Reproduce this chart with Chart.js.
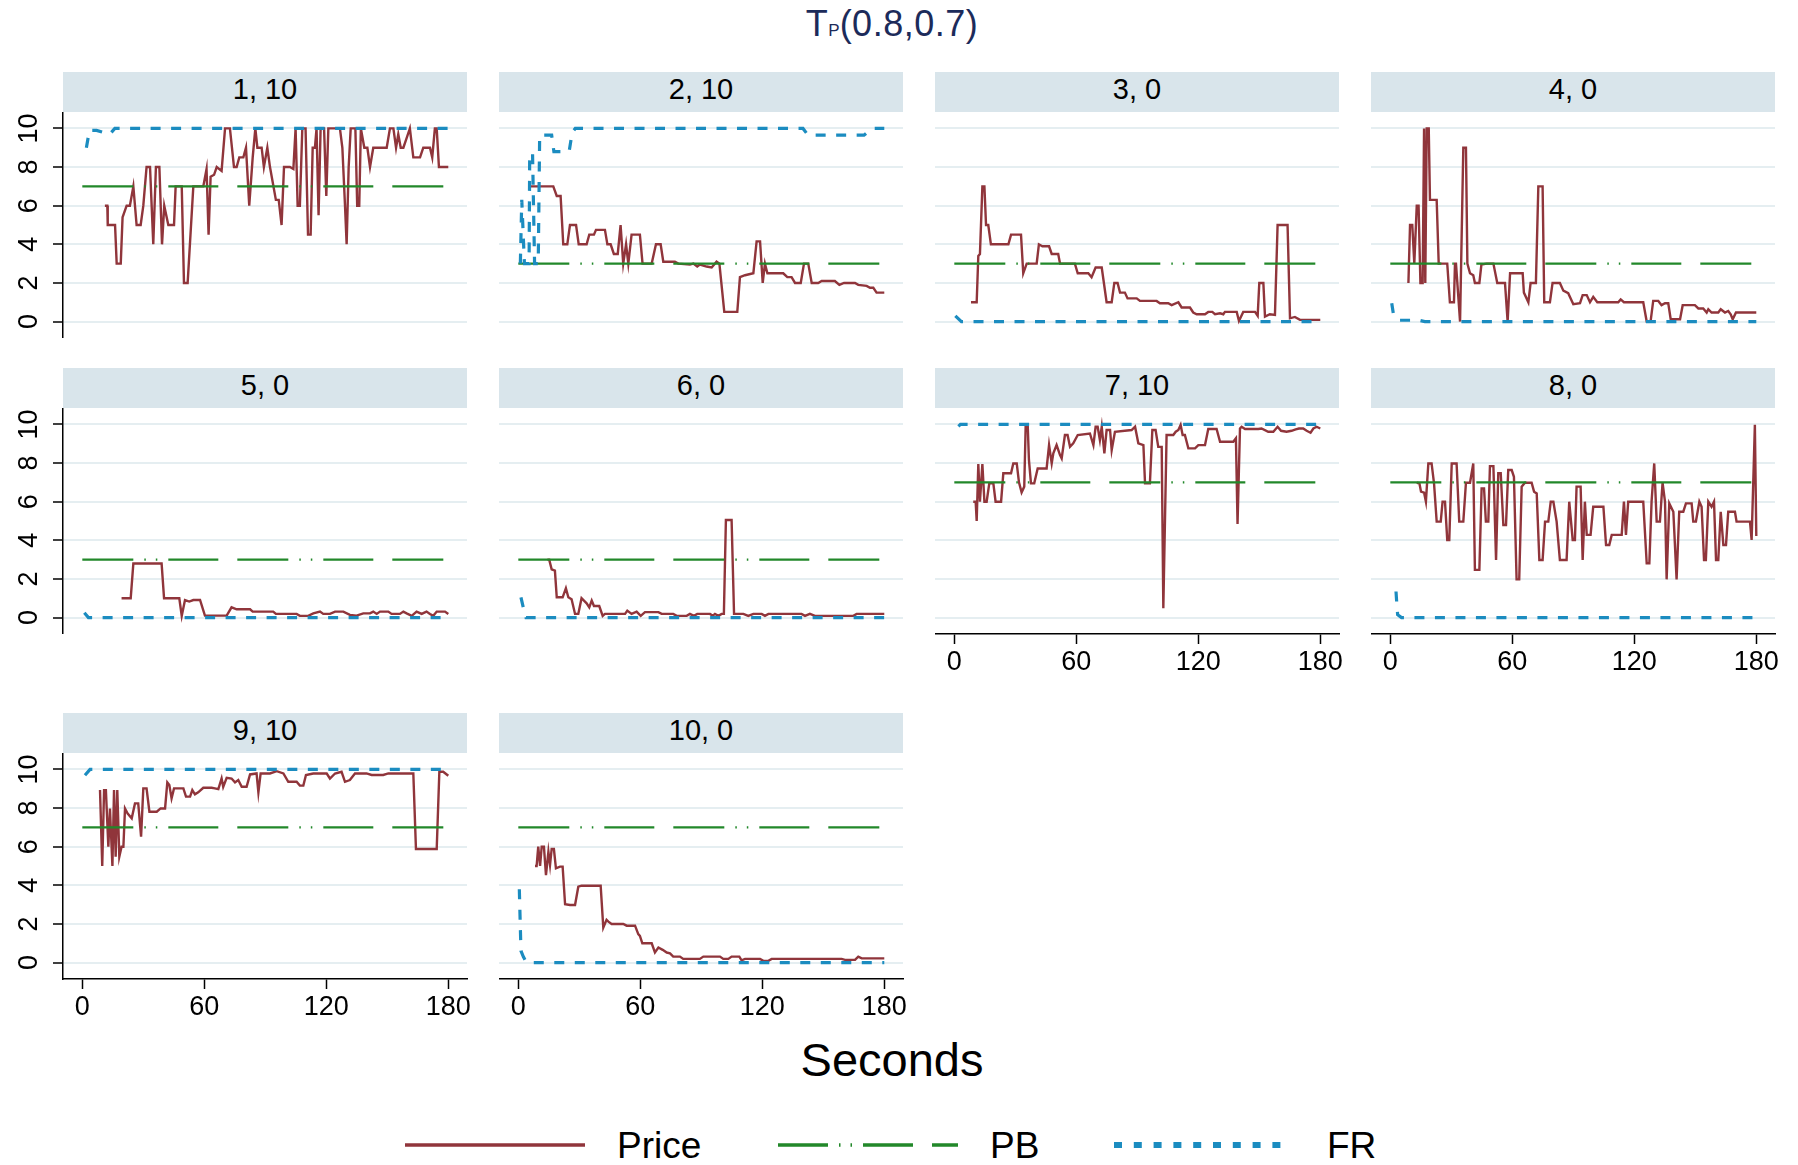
<!DOCTYPE html>
<html>
<head>
<meta charset="utf-8">
<title>TP(0.8,0.7)</title>
<script src="https://cdn.jsdelivr.net/npm/chart.js@4.4.1/dist/chart.umd.min.js"></script>
<style>
  body { margin: 0; background: #fff; font-family: "Liberation Sans", Arial, sans-serif; }
  #page { position: relative; width: 1798px; height: 1165px; overflow: hidden; background: #fff; }
  .strip { position: absolute; height: 40px; box-sizing: border-box; padding-bottom: 6px;
           background: #d9e5eb; display: flex; align-items: center; justify-content: center;
           font-size: 29px; line-height: 1; color: #000; }
  .panel { position: absolute; }
  #title { position: absolute; left: 0; top: 6px; width: 1784px; text-align: center;
           font-size: 36px; line-height: 1; letter-spacing: 0.5px; color: #1c2b5a; }
  #title span { font-size: 17px; letter-spacing: 0; }
  #xtitle { position: absolute; left: 0; top: 1036px; width: 1784px; text-align: center;
            font-size: 47px; line-height: 1; color: #000; }
  .legtext { position: absolute; top: 1127px; font-size: 37px; line-height: 1; color: #000; }
  #legend { position: absolute; left: 0; top: 0; }
</style>
</head>
<body>
<div id="page">
  <div id="title">T<span>P</span>(0.8,0.7)</div>
  <div id="xtitle">Seconds</div>
  <svg id="legend" width="1798" height="1165">
    <line x1="405" y1="1145" x2="585" y2="1145" stroke="#90353b" stroke-width="3.5"/>
    <line x1="778" y1="1145" x2="958" y2="1145" stroke="#22882a" stroke-width="3.5"
          stroke-dasharray="50 11 1.5 10 1.5 11 50 19"/>
    <line x1="1114" y1="1145" x2="1292" y2="1145" stroke="#1b8cc0" stroke-width="6"
          stroke-dasharray="8 11.8"/>
  </svg>
  <div class="legtext" style="left:617px">Price</div>
  <div class="legtext" style="left:990px">PB</div>
  <div class="legtext" style="left:1327px">FR</div>
</div>

<script>
// ---------------- data (seconds, value) ----------------
const panelTitles = ['1, 10', '2, 10', '3, 0', '4, 0', '5, 0', '6, 0', '7, 10', '8, 0', '9, 10', '10, 0'];
const pbLevel = [7, 3, 3, 3, 3, 3, 7, 7, 7, 7];
const pbRange = [0, 180];
const xTicks = [0, 60, 120, 180];
const xTickLabels = ['0', '60', '120', '180'];
const yTicks = [0, 2, 4, 6, 8, 10];
const yTickLabels = ['0', '2', '4', '6', '8', '10'];

const price1 = [[11.1,6],[12.3,6],[12.5,5],[16.1,5],[16.9,3],[18.9,3],[19.8,5.4],[21.8,6],[23.4,6],[25.1,7],[26.7,5],[28.7,5],[30,6],[31.6,8],[33.3,8],[34.9,4],[36.2,8],[37.9,8],[39.2,4],[40.3,6],[42.3,5],[45.1,5],[45.9,7],[48.9,7],[50,2],[51.8,2],[54.6,7],[59.5,7],[61.1,7.9],[62.1,4.5],[63.1,7.5],[64.8,7.6],[66.1,8],[68.5,7.8],[70.2,10],[72.6,10],[74.6,8],[75.9,8],[77.2,8.5],[79.2,8.5],[80.5,9],[82.1,6],[83.8,8.5],[85.1,10],[86.1,9],[88.2,9],[89.3,8],[91,9],[92.3,8],[95.2,6.3],[96.6,6.3],[98,5],[99.2,8],[102.1,8],[103.8,7.9],[104.9,10],[105.9,6],[107,6],[108.2,10],[109.8,10],[111,4.5],[112.3,4.5],[113.3,9],[114.4,9],[115.2,10],[116.2,5.5],[117.2,10],[118.9,10],[120,6.5],[121,10],[126.7,10],[127.9,9],[129.2,6],[130,4],[131,8],[132,10],[134.3,10],[135.2,6],[136.2,6],[137,10],[138.7,9],[140.2,9],[141.5,8],[143.1,9],[149.7,9],[151.3,10],[153,10],[154.3,9],[155.4,9.7],[156.6,9],[157.9,9],[159.5,9.5],[161.1,10],[162.8,8.5],[166.1,8.5],[167.7,9],[171,9],[172.1,8.5],[173.4,10],[174.3,10],[175.4,8],[180,8]];
const price2 = [[4.9,7],[17.2,7],[18.9,6.5],[20.8,6.5],[22.1,4],[24.1,4],[25.4,5],[28.4,5],[29.7,4],[33.6,4],[34.9,4.5],[37.2,4.5],[38.2,4.75],[42.6,4.75],[43.8,4],[45.4,4],[47,3.5],[48.9,3.5],[50.3,5],[51.6,3],[53,4],[54.1,3],[55.7,4.5],[59.8,4.5],[61.1,3],[65.6,3],[67.7,4],[70,4],[71.3,3.1],[77,3.1],[78.7,3],[84.4,2.95],[86.1,3],[88,2.85],[89.3,2.95],[92.6,2.85],[95.1,2.8],[97.5,3.1],[98.9,3],[101.3,0.5],[107.7,0.5],[109,2.3],[111.5,2.4],[115.6,2.5],[117.2,4.15],[118.9,4.15],[120.2,2],[121.3,3],[122.5,2.5],[130.3,2.5],[132.3,2.3],[134.4,2.3],[136.1,2],[138.9,2],[140.5,3],[142.6,3],[144.3,2],[147.5,2],[149.2,2.1],[155.7,2.1],[157.9,1.9],[160.2,2],[165.6,2],[167.2,1.9],[171.3,1.85],[173,1.75],[174.6,1.75],[176.2,1.5],[180,1.5]];
const price3 = [[8.2,1],[11,1],[11.8,3.4],[12.6,3.5],[13.8,7],[14.8,7],[15.6,5],[16.7,5],[18,4],[26.6,4],[27.9,4.5],[32.8,4.5],[33.9,2.5],[35.6,3],[40.5,3],[41.6,4],[43.3,3.9],[46.6,3.9],[47.9,3.5],[51.1,3.5],[52,3],[59.3,3],[60.7,2.5],[65.9,2.5],[67.5,2.3],[69.5,2.8],[72.5,2.8],[74.9,1],[77.4,1],[78.7,2],[80.3,2],[81.5,1.5],[83.9,1.5],[85.2,1.2],[89.7,1.2],[91.3,1.07],[99.5,1.07],[101.1,0.95],[105.2,0.95],[106.9,0.85],[110.2,1],[111.8,0.73],[115.9,0.73],[117.5,0.47],[119.2,0.38],[123.3,0.38],[124.9,0.5],[126.9,0.5],[128.2,0.38],[130.7,0.43],[132.3,0.38],[133.1,0.5],[138.9,0.5],[140,0.03],[142.1,0.5],[147.9,0.5],[149.2,0.3],[150,2],[152,2],[152.8,0.26],[155.2,0.38],[157.7,0.35],[159,5],[163.9,5],[165.1,0.17],[167.5,0.24],[170,0.09],[180,0.09]];
const price4 = [[8.9,2],[9.7,5],[10.8,5],[11.8,3],[13,6],[13.9,6],[14.8,2],[15.9,2],[16.6,10],[17.2,2],[17.9,10],[18.9,10],[19.5,6.3],[22.8,6.3],[23.8,3],[28,3],[29.3,1],[31.3,1],[31.8,3],[32.3,3],[34.3,0],[35.9,9],[37.2,9],[37.9,3],[39.2,2.5],[40.8,2.4],[41.6,2],[43.8,2],[44.8,2.95],[47.4,3],[50.7,3],[52.6,2],[56.4,2],[57.7,0],[58.9,2.5],[65.1,2.5],[65.7,1.5],[67.9,1],[69,2],[71.6,2],[72.8,7],[74.9,7],[75.7,1],[78.5,1],[79.8,2],[83.4,2],[85.1,1.6],[87.5,1.47],[90,0.9],[93.3,0.95],[94.6,1.37],[96.6,1.37],[98.2,1],[99.8,1.28],[101.8,1],[112.1,1],[113.3,1.15],[114.9,1],[124.4,1],[126.1,0],[128,0],[129.3,1.07],[131.8,1.07],[133.4,0.85],[135.1,0.95],[136.7,0.95],[137.9,0.12],[142.5,0.12],[143.8,0.85],[149.8,0.85],[151.5,0.68],[153.9,0.68],[155.6,0.47],[156.4,0.64],[158,0.47],[161.3,0.47],[162.5,0.64],[164.6,0.47],[166.2,0.55],[167.4,0.38],[168.4,0.12],[170,0.47],[180,0.47]];
const price5 = [[19.3,1],[23.8,1],[25.1,2.8],[39,2.8],[40.2,1],[47.7,1],[48.9,0.09],[50.5,0.91],[52.6,0.83],[54.6,0.91],[57.9,0.91],[60.3,0.1],[71,0.1],[73.4,0.53],[75.9,0.43],[82.5,0.43],[83.8,0.31],[93.9,0.31],[95.2,0.19],[105.4,0.19],[107,0.09],[111.1,0.09],[113.6,0.22],[116.9,0.31],[118.5,0.19],[121.8,0.19],[124.3,0.31],[128.4,0.31],[131.6,0.14],[134.9,0.1],[138.2,0.22],[141.5,0.22],[143.1,0.31],[144.8,0.19],[146.4,0.31],[150.5,0.31],[152.1,0.19],[156.2,0.19],[157.9,0.31],[159.5,0.22],[162,0.09],[164.4,0.31],[166.9,0.19],[169.3,0.31],[171,0.19],[172.6,0.09],[174.3,0.31],[178.4,0.31],[180,0.19]];
const price6 = [[14.3,3],[15.2,3],[16.4,2.5],[18,2.43],[18.9,1.05],[21.8,1.05],[23.4,1.52],[24.6,1.05],[26.2,0.95],[27.9,0.19],[29.5,0.19],[31.1,1],[33.6,0.74],[34.9,0.53],[36.1,0.88],[37.2,0.6],[39.8,0.6],[41.5,0.09],[42.6,0.19],[52.5,0.19],[53.6,0.36],[55.7,0.19],[58.2,0.31],[60.2,0.09],[62.3,0.28],[68.9,0.28],[70.5,0.19],[76.2,0.19],[77.9,0.09],[82.8,0.09],[84.4,0.19],[86.4,0.09],[88,0.19],[94.3,0.19],[95.6,0.09],[96.7,0.19],[98.4,0.09],[100,0.19],[101.1,0.19],[102.1,5.05],[104.9,5.05],[106.1,0.19],[110.7,0.19],[113.1,0.09],[115.6,0.19],[119.7,0.19],[121.3,0.09],[123,0.19],[139.3,0.19],[141,0.09],[143.4,0.19],[145.9,0.09],[164.8,0.09],[166.4,0.19],[180,0.19]];
const price7 = [[9.3,6],[10.5,6],[11,5],[11.8,7.95],[12.6,6],[13.8,7.95],[14.8,6],[15.9,6],[17.2,6.95],[19.2,6.95],[20.3,6],[23,6],[24.1,7.47],[27.9,7.47],[29,7.98],[30.7,7.98],[31.8,7],[33.1,6.48],[34.4,6.78],[35.1,9.97],[36.1,9.97],[36.7,8.16],[37.7,6.95],[39.3,6.95],[41,7.72],[45.4,7.72],[46.6,8.93],[47.9,7.98],[48.7,8.5],[50.3,8.93],[52,8.41],[52.8,8.24],[54.4,9.45],[55.7,9.45],[56.9,8.84],[58.5,9.02],[60.7,9.45],[66.7,9.53],[68.4,8.93],[69.5,9.88],[70.5,9.88],[71.6,9.19],[72.5,9.88],[73.8,8.5],[74.9,9.71],[76.6,9.71],[77.4,8.67],[79,9.62],[87.2,9.71],[88.9,9.88],[90.5,9.02],[93,8.93],[93.8,6.95],[96.2,6.95],[97.4,9.71],[99,9.71],[100.3,8.84],[102,8.84],[102.8,0.48],[104.4,9.45],[107.7,9.45],[108.9,9.62],[110.2,9.71],[111.3,9.97],[112.3,9.45],[113.4,9.45],[115.1,8.76],[118.4,8.76],[120,8.93],[123.3,8.93],[124.9,9.76],[129,9.76],[130.7,9.1],[137.2,9.1],[138.5,9.28],[139.3,4.84],[140.5,9.79],[141.3,9.88],[143,9.76],[149.5,9.76],[151.1,9.79],[154.4,9.62],[156.9,9.62],[159,9.88],[160.7,9.67],[163.4,9.62],[165.9,9.67],[167.9,9.74],[169.5,9.79],[171.6,9.79],[173.3,9.67],[175.2,9.57],[176.6,9.79],[178.2,9.88],[180,9.79]];
const price8 = [[13,6.98],[14.3,6.95],[15.1,6.52],[16.6,6.47],[17.5,6],[18.7,7.98],[20.3,7.98],[21.5,6.95],[22.8,4.97],[24.8,4.97],[25.7,6],[26.9,6],[28,4.02],[29,4.02],[30.2,7.98],[32.6,7.98],[33.9,4.97],[35.9,4.97],[37.2,6.98],[39.2,6.98],[40.8,7.98],[41.6,2.47],[43.8,2.47],[44.9,6.69],[46.1,6.69],[47,4.97],[48.2,4.97],[49,7.84],[50.7,7.84],[52,2.98],[53.1,7.47],[54.3,7.47],[55.6,4.79],[56.9,4.79],[58,7.64],[59.7,7.64],[60.8,7.29],[62.1,1.98],[63.4,1.98],[64.6,6.78],[66.2,6.98],[69.5,6.98],[70.7,6.52],[72,6.43],[73.3,2.98],[74.9,2.98],[76.1,4.97],[77.7,4.97],[78.9,6],[80.2,6],[81.8,4.97],[83.4,2.98],[86.7,2.98],[88,6],[89.7,4.02],[90.8,4.02],[91.6,6.78],[93.6,6.78],[94.6,2.98],[95.7,6],[96.6,4.28],[98.5,4.28],[99.8,5.74],[104.8,5.74],[106.1,3.76],[107.7,3.76],[108.9,4.28],[113.8,4.28],[114.9,6],[115.9,4.28],[117,6],[124.4,6],[126.1,2.81],[127.4,2.81],[128.5,6],[129.8,7.98],[131,4.97],[132.6,4.97],[133.9,6.98],[135.1,6],[135.9,1.98],[137.2,5.91],[139.2,5.48],[140.8,1.98],[142.1,5.48],[144.1,5.48],[145.4,5.91],[148.2,5.91],[149,4.97],[150.3,4.97],[152,6],[153.1,5.74],[154.3,2.98],[155.2,2.98],[156.4,6],[158,5.74],[159.2,6],[160.2,2.98],[161.3,2.98],[162.5,5.48],[163.8,3.76],[165.1,3.76],[166.2,5.48],[169.5,5.48],[170.3,4.97],[176.9,4.97],[177.7,4.02],[179.3,9.98],[180,4.22]];
const price9 = [[8.7,8.93],[9.8,5],[10.7,8.93],[11.6,8.93],[12.8,6],[13.6,7.98],[14.8,5],[15.6,8.93],[16.4,5.48],[17.2,8.93],[18.2,5.48],[19.3,6],[20.2,6],[21,7.98],[22.3,7.72],[24.3,7.47],[25.9,8.24],[27.5,8.24],[28.9,6.52],[30,9.02],[31.6,9.02],[33,7.81],[36.6,7.81],[38.5,7.98],[40.7,7.98],[41.8,9.33],[42.8,9.19],[43.9,8.5],[45.1,9.02],[49.7,9.02],[51,8.59],[53,8.59],[54.1,8.93],[55.4,8.71],[57,8.81],[59.5,9.05],[63.6,9.05],[65.2,9.02],[66.9,8.98],[68.5,9.53],[69.3,9.1],[71,9.57],[73.4,9.53],[75.1,9.33],[76.7,9.45],[78.4,9.1],[80.8,9.1],[82.5,9.74],[85.7,9.79],[86.6,8.81],[87.7,9.79],[92.3,9.79],[95.6,9.91],[98.9,9.79],[101.3,9.36],[105.4,9.36],[107,9.16],[108.7,9.16],[110,9.71],[113.6,9.79],[120.2,9.79],[121.8,9.53],[124.3,9.79],[127.5,9.88],[129.2,9.36],[131.6,9.45],[134.1,9.79],[139.8,9.79],[142.3,9.71],[148,9.71],[150.5,9.79],[162.8,9.79],[164.1,5.88],[174.3,5.88],[175.6,9.88],[177.5,9.88],[180,9.67]];
const price10 = [[8.2,5],[9,5],[9.8,6],[10.7,5],[11.5,6],[12.6,6],[13.6,4.53],[14.8,5.74],[15.6,5.05],[16.4,5.88],[17.5,5.88],[18.5,4.88],[20.5,4.97],[21.8,4.97],[23,3.02],[25.4,2.98],[27.9,2.98],[29.5,3.93],[31.1,3.98],[40.5,3.98],[41.8,1.81],[43.4,2.21],[44.3,2.12],[45.9,2],[51.6,2],[53.3,1.91],[57.4,1.91],[59,1.47],[59.8,1.38],[61,1],[65.6,1],[67.2,0.53],[68.9,0.78],[71,0.66],[73,0.52],[74.6,0.48],[76.2,0.31],[79.5,0.31],[81.1,0.19],[89.3,0.19],[91,0.31],[99.2,0.31],[100.8,0.19],[103.3,0.19],[104.9,0.31],[108.7,0.31],[109.8,0.12],[111.5,0.19],[118.9,0.19],[120.5,0.09],[123,0.09],[124.6,0.19],[159,0.19],[160.7,0.14],[165.6,0.14],[167.2,0.31],[168.9,0.22],[180,0.22]];

const fr1 = [[2,9],[3.5,9.9],[7,9.9],[13.5,9.7],[16,10],[180,10]];
const fr2 = [[1,3],[1.7,6.3],[3,3],[5.3,3],[5.6,8.7],[7,8.7],[8,3],[9.8,3],[10.5,9.65],[16.4,9.65],[17.5,8.8],[25,8.8],[26.5,9.8],[28,10],[140,10],[142.5,9.65],[170,9.65],[174,10],[180,10]];
const fr3 = [[0.5,0.3],[3.5,0],[180,0]];
const fr4 = [[0.7,0.95],[1.5,0.4],[4,0.07],[14,0.07],[17,0],[180,0]];
const fr5 = [[1,0.25],[3,0],[180,0]];
const fr6 = [[1.3,1.05],[2.5,0.5],[3.8,0],[180,0]];
const fr7 = [[2,9.9],[3,10],[180,10]];
const fr8 = [[2.8,1.35],[3.2,0.7],[3.6,0.15],[5.5,0],[178.5,0]];
const fr9 = [[1.3,9.7],[3.8,10],[180,10]];
const fr10 = [[0.5,3.8],[1.3,0.6],[2.5,0.3],[4,0],[180,0]];

const priceSeries = [price1, price2, price3, price4, price5, price6, price7, price8, price9, price10];
const frSeries = [fr1, fr2, fr3, fr4, fr5, fr6, fr7, fr8, fr9, fr10];

// ---------------- layout / style ----------------
const colLeft = [63, 499, 935, 1371];
const rowTop = [72, 368, 713];
const PLOT_W = 404, PLOT_H = 226, STRIP_H = 40;
const Y_AXIS_W = 70, X_AXIS_H = 52, PAD_R = 14;
const X_MIN = -9.5, X_MAX = 189.2, Y_MIN = -0.85, Y_MAX = 10.85;
const PRICE_COLOR = '#90353b', PB_COLOR = '#22882a', FR_COLOR = '#1b8cc0';
const GRID_COLOR = '#e5eef1';
const PB_DASH = [51, 11, 1.5, 10, 1.5, 11, 50, 19];
const FR_DASH = [10, 10.5];
const FONT = '"Liberation Sans", Arial, sans-serif';
const TICK_FONT = 27;

const toPoints = arr => arr.map(([x, y]) => ({ x, y }));
const page = document.getElementById('page');

function makePanel(i) {
    const row = Math.floor(i / 4), col = i % 4;
    const showY = col === 0;
    const showX = i >= 6;
    const yW = showY ? Y_AXIS_W : 0;
    const xH = showX ? X_AXIS_H : 0;

    const strip = document.createElement('div');
    strip.className = 'strip';
    strip.style.left = colLeft[col] + 'px';
    strip.style.top = rowTop[row] + 'px';
    strip.style.width = PLOT_W + 'px';
    strip.textContent = panelTitles[i];
    page.appendChild(strip);

    const canvas = document.createElement('canvas');
    canvas.className = 'panel';
    canvas.width = PLOT_W + yW + PAD_R;
    canvas.height = PLOT_H + xH;
    canvas.style.left = (colLeft[col] - yW) + 'px';
    canvas.style.top = (rowTop[row] + STRIP_H) + 'px';
    page.appendChild(canvas);

    new Chart(canvas, {
        type: 'line',
        data: {
            datasets: [
                { label: 'Price', data: toPoints(priceSeries[i]), borderColor: PRICE_COLOR, borderWidth: 2.4, order: 3 },
                { label: 'PB', data: pbRange.map(x => ({ x, y: pbLevel[i] })), borderColor: PB_COLOR, borderWidth: 2.2, borderDash: PB_DASH, order: 2 },
                { label: 'FR', data: toPoints(frSeries[i]), borderColor: FR_COLOR, borderWidth: 3.2, borderDash: FR_DASH, order: 1 }
            ]
        },
        options: {
            responsive: false,
            animation: false,
            devicePixelRatio: 1,
            layout: { padding: { left: 0, right: PAD_R, top: 0, bottom: 0 } },
            elements: { point: { radius: 0 }, line: { tension: 0, fill: false } },
            plugins: { legend: { display: false }, tooltip: { enabled: false } },
            scales: {
                x: {
                    type: 'linear', min: X_MIN, max: X_MAX,
                    afterBuildTicks: s => { s.ticks = xTicks.map(v => ({ value: v })); },
                    ticks: {
                        display: showX, autoSkip: false, minRotation: 0, maxRotation: 0, padding: 2,
                        color: '#000', font: { family: FONT, size: TICK_FONT },
                        callback: (v, idx) => xTickLabels[idx]
                    },
                    grid: { drawOnChartArea: false, drawTicks: showX, tickLength: 10, tickColor: '#000', tickWidth: 1.5 },
                    border: { display: showX, color: '#000', width: 1.5 },
                    afterFit: s => { s.height = xH; s.paddingLeft = 0; s.paddingRight = 0; }
                },
                y: {
                    type: 'linear', min: Y_MIN, max: Y_MAX,
                    afterBuildTicks: s => { s.ticks = yTicks.map(v => ({ value: v })); },
                    ticks: {
                        display: showY, minRotation: 90, maxRotation: 90, crossAlign: 'center', padding: 8,
                        color: '#000', font: { family: FONT, size: TICK_FONT },
                        callback: (v, idx) => yTickLabels[idx]
                    },
                    grid: { color: GRID_COLOR, lineWidth: 2, drawTicks: showY, tickLength: 10, tickColor: '#000', tickWidth: 1.5 },
                    border: { display: showY, color: '#000', width: 1.5 },
                    afterFit: s => { s.width = yW; s.paddingTop = 0; s.paddingBottom = 0; }
                }
            }
        }
    });
}

panelTitles.forEach((t, i) => makePanel(i));
</script>
</body>
</html>
